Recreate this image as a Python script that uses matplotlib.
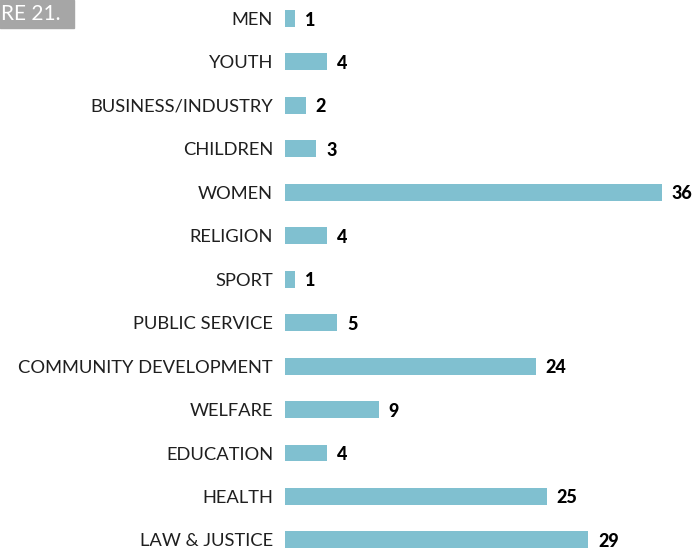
import matplotlib.pyplot as plt

categories = ["MEN", "YOUTH", "BUSINESS/INDUSTRY", "CHILDREN", "WOMEN", "RELIGION",
              "SPORT", "PUBLIC SERVICE", "COMMUNITY DEVELOPMENT", "WELFARE",
              "EDUCATION", "HEALTH", "LAW & JUSTICE"]
values = [1, 4, 2, 3, 36, 4, 1, 5, 24, 9, 4, 25, 29]

bar_color = "#80c0d0"
text_color = "#1f1f1f"

fig = plt.figure(figsize=(6.96, 5.56), dpi=100)
ax = fig.add_axes([285 / 696, 0, 411 / 696, 1])

pos = list(range(len(categories)))
ax.barh(pos, values, height=0.39, color=bar_color)
ax.set_xlim(0, 411 / 10.46)
ax.set_ylim(12.37, -0.426)
ax.axis("off")

for y, cat, v in zip(pos, categories, values):
    ax.annotate(cat, (0, y), xytext=(-8.6, 0), textcoords="offset points",
                ha="right", va="center_baseline", fontsize=13.2, family="Lato",
                color=text_color)
    ax.annotate(str(v), (v, y), xytext=(7, 0), textcoords="offset points",
                ha="left", va="center_baseline", fontsize=13, family="Lato",
                fontweight="black", color="#000000")

# cropped figure tag in top-left corner
fig.patches.append(plt.Rectangle((0, 1 - 28 / 556), 74 / 696, 28 / 556,
                                 transform=fig.transFigure, color="#a6a6a6"))
fig.text(1 / 696, 1 - 14 / 556, "RE 21.", color="white", fontsize=15,
         family="Lato", va="center", ha="left")

fig.savefig("out.png", dpi=100)
